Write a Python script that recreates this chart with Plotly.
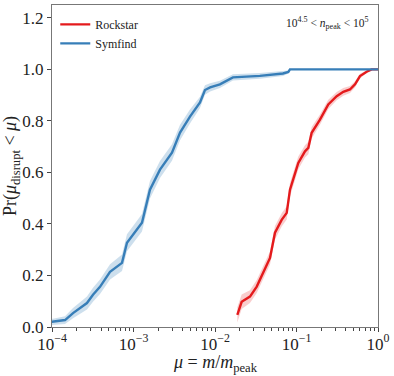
import plotly.graph_objects as go

# Symfind (blue) cumulative distribution: log10(mu), probability, band half-width
sym_logmu = [-4.05, -3.988, -3.84, -3.742, -3.656, -3.571, -3.497, -3.411, -3.288, -3.141, -3.08,
             -2.957, -2.896, -2.798, -2.675, -2.528, -2.429, -2.307, -2.184, -2.123, -2.06,
             -1.94, -1.78, -1.45, -1.166, -1.10, -1.08, 0.0]
sym_p = [0.018, 0.02, 0.027, 0.054, 0.074, 0.093, 0.125, 0.156, 0.214, 0.249, 0.327,
         0.377, 0.405, 0.533, 0.611, 0.677, 0.755, 0.817, 0.872, 0.92, 0.93,
         0.942, 0.969, 0.975, 0.984, 0.99, 1.0, 1.0]
sym_w = [0.012, 0.012, 0.015, 0.02, 0.022, 0.025, 0.027, 0.028, 0.03, 0.032, 0.033,
         0.034, 0.034, 0.034, 0.033, 0.032, 0.03, 0.027, 0.022, 0.018, 0.016,
         0.014, 0.012, 0.011, 0.01, 0.006, 0.0, 0.0]

# Rockstar (red)
rock_logmu = [-1.726, -1.673, -1.571, -1.488, -1.325, -1.264, -1.182, -1.12, -1.08, -0.978,
              -0.896, -0.855, -0.814, -0.712, -0.61, -0.507, -0.426, -0.344, -0.282, -0.221,
              -0.139, -0.077, 0.0]
rock_p = [0.047, 0.098, 0.118, 0.157, 0.268, 0.366, 0.416, 0.443, 0.533, 0.637,
          0.682, 0.695, 0.754, 0.805, 0.864, 0.896, 0.913, 0.922, 0.942, 0.974,
          0.991, 1.0, 1.0]
rock_w = [0.03, 0.028, 0.025, 0.025, 0.025, 0.026, 0.026, 0.026, 0.026, 0.025,
          0.024, 0.024, 0.022, 0.02, 0.018, 0.016, 0.015, 0.014, 0.012, 0.009,
          0.005, 0.002, 0.0]

x_tickvals = [1e-4, 1e-3, 1e-2, 1e-1, 1]
x_ticktext = ["10<sup>−4</sup>", "10<sup>−3</sup>", "10<sup>−2</sup>", "10<sup>−1</sup>", "10<sup>0</sup>"]
x_minor = [m * 10 ** e for e in (-4, -3, -2, -1) for m in range(2, 10)]
y_tickvals = [0.0, 0.2, 0.4, 0.6, 0.8, 1.0, 1.2]

RED = "#e41a1c"
BLUE = "#377eb8"
FONT = "Liberation Serif"

fig = go.Figure()


def add_series(logmu, p, w, color, fill, name):
    x = [10 ** v for v in logmu]
    lo = [a - b for a, b in zip(p, w)]
    hi = [a + b for a, b in zip(p, w)]
    fig.add_trace(go.Scatter(x=x, y=lo, mode="lines", line=dict(width=0), showlegend=False,
                             hoverinfo="skip"))
    fig.add_trace(go.Scatter(x=x, y=hi, mode="lines", line=dict(width=0), fill="tonexty",
                             fillcolor=fill, showlegend=False, hoverinfo="skip"))
    fig.add_trace(go.Scatter(x=x, y=p, mode="lines", line=dict(color=color, width=2.4), name=name))


add_series(rock_logmu, rock_p, rock_w, RED, "rgba(228,26,28,0.22)", "Rockstar")
add_series(sym_logmu, sym_p, sym_w, BLUE, "rgba(55,126,184,0.25)", "Symfind")

fig.add_annotation(x=0.98, y=0.975, xref="paper", yref="paper", xanchor="right", yanchor="top",
                   text="10<sup>4.5</sup> &lt; <i>n</i><sub>peak</sub> &lt; 10<sup>5</sup>",
                   showarrow=False, font=dict(family=FONT, size=11.5, color="#222"))

# x axis title placed precisely below tick labels
fig.add_annotation(x=0.5, y=-0.112, xref="paper", yref="paper", xanchor="center", yanchor="middle",
                   text="<i>μ</i> = <i>m</i>/<i>m</i><sub>peak</sub>", showarrow=False,
                   font=dict(family=FONT, size=18, color="#222"))

fig.update_layout(
    width=394, height=376,
    margin=dict(l=52, r=16, t=5, b=49),
    paper_bgcolor="white", plot_bgcolor="white",
    font=dict(family=FONT, color="#222"),
    showlegend=True,
    legend=dict(x=0.01, y=0.985, xanchor="left", yanchor="top", bgcolor="rgba(0,0,0,0)",
                font=dict(family=FONT, size=12), tracegroupgap=0, traceorder="normal"),
    xaxis=dict(type="log", range=[-4, 0], tickvals=x_tickvals, ticktext=x_ticktext,
               ticks="outside", ticklen=4, tickcolor="#444", showgrid=False, zeroline=False,
               showline=True, linecolor="#777", linewidth=1.2, mirror=True, automargin=False,
               tickfont=dict(family=FONT, size=17), ticklabelstandoff=-3,
               minor=dict(tickvals=x_minor, ticks="outside", ticklen=2.5, tickcolor="#444",
                          showgrid=False)),
    yaxis=dict(range=[0, 1.25], tickvals=y_tickvals, tickformat=".1f",
               ticks="outside", ticklen=4, tickcolor="#444", showgrid=False, zeroline=False,
               showline=True, linecolor="#777", linewidth=1.2, mirror=True, automargin=False,
               tickfont=dict(family=FONT, size=17),
               title=dict(text="Pr(<i>μ</i><sub>disrupt</sub> &lt; <i>μ</i>)",
                          font=dict(family=FONT, size=18), standoff=2)),
)

fig.write_html("out.html", config={"displayModeBar": False},
               post_script="document.body.style.margin='0';")
